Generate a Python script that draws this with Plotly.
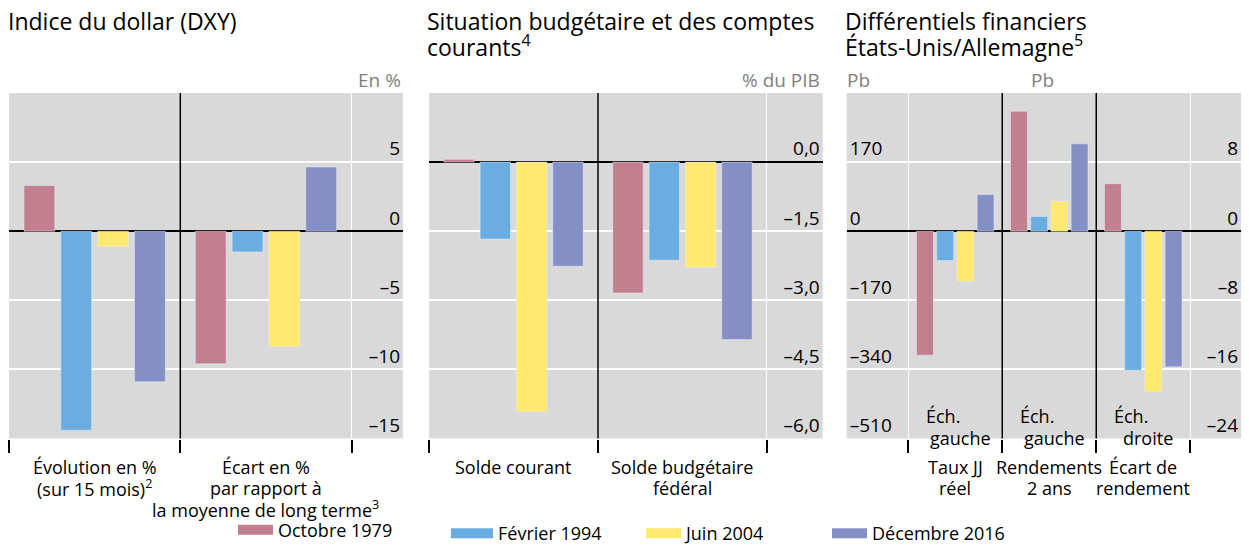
import plotly.graph_objects as go

W, H = 1249, 547
OFF = 8  # default page body margin

series_names = ["Octobre 1979", "Février 1994", "Juin 2004", "Décembre 2016"]
series_colors = ["#C27F8F", "#6AADE0", "#FFE971", "#838FC5"]

# Panel 1: Indice du dollar (DXY)
dxy_title = "Indice du dollar (DXY)"
dxy_categories = ["Évolution en %<br>(sur 15 mois)<sup>2</sup>",
                  "Écart en %<br>par rapport à<br>la moyenne de long terme<sup>3</sup>"]
dxy_values = [[3.3, -9.6], [-14.4, -1.5], [-1.1, -8.35], [-10.9, 4.65]]
dxy_ticks = [-15, -10, -5, 0, 5]
dxy_ticktext = ["–15", "–10", "–5", "0", "5"]

# Panel 2: Situation budgétaire et des comptes courants
bud_title = "Situation budgétaire et des comptes<br>courants<sup>4</sup>"
bud_categories = ["Solde courant", "Solde budgétaire<br>fédéral"]
bud_values = [[0.06, -2.84], [-1.67, -2.13], [-5.42, -2.28], [-2.26, -3.85]]
bud_ticks = [-6.0, -4.5, -3.0, -1.5, 0.0]
bud_ticktext = ["–6,0", "–4,5", "–3,0", "–1,5", "0,0"]

# Panel 3: Différentiels financiers États-Unis/Allemagne
fin_title = "Différentiels financiers<br>États-Unis/Allemagne<sup>5</sup>"
fin_categories = ["Taux JJ<br>réel", "Rendements<br>2 ans", "Écart de<br>rendement"]
fin_scale_notes = ["Éch.<br>gauche", "Éch.<br>gauche", "Éch.<br>droite"]
fin_left_values = [[-305, 295], [-72, 36], [-123, 74], [90, 215]]
fin_right_values = [5.5, -16.1, -18.6, -15.7]
fin_left_ticks = [-510, -340, -170, 0, 170]
fin_left_ticktext = ["–510", "–340", "–170", "0", "170"]
fin_right_ticks = [-24, -16, -8, 0, 8]
fin_right_ticktext = ["–24", "–16", "–8", "0", "8"]

FONT = "Open Sans"
BG = "#D9D9D9"
BAR_W = 0.18
SLOT = 0.215
FW, FH = W - OFF, H - OFF


def offs(i):
    return -2 * SLOT + (SLOT - BAR_W) / 2 + i * SLOT


def px(x):
    return (x - OFF) / FW


def py(y):
    return 1 - (y - OFF) / FH


fig = go.Figure()

for i, (name, col) in enumerate(zip(series_names, series_colors)):
    fig.add_trace(go.Bar(x=[0.5, 1.5], y=dxy_values[i], marker_color=col, width=BAR_W,
                         offset=offs(i), xaxis="x", yaxis="y", showlegend=False, name=name))
    fig.add_trace(go.Bar(x=[0.5, 1.5], y=bud_values[i], marker_color=col, width=BAR_W,
                         offset=offs(i), xaxis="x2", yaxis="y2", showlegend=False, name=name))
    fig.add_trace(go.Bar(x=[0.5, 1.5], y=fin_left_values[i], marker_color=col, width=BAR_W,
                         offset=offs(i), xaxis="x3", yaxis="y3", showlegend=False, name=name))
    fig.add_trace(go.Bar(x=[2.5], y=[fin_right_values[i]], marker_color=col, width=BAR_W,
                         offset=offs(i), xaxis="x3", yaxis="y4", showlegend=False, name=name))

legend_keys = ["legend", "legend2", "legend3", "legend4"]
for i, (name, col) in enumerate(zip(series_names, series_colors)):
    fig.add_trace(go.Scatter(x=[None], y=[None], mode="lines", line=dict(color=col, width=14),
                             name=name, legend=legend_keys[i], xaxis="x", yaxis="y"))

ytop, ybot = 93, 438.5
ydom = [py(ybot), py(ytop)]

xcommon = dict(showgrid=True, gridcolor="white", gridwidth=1, zeroline=False, showline=False,
               ticks="outside", ticklen=13, tickcolor="black", tickwidth=1.5,
               showticklabels=False, fixedrange=True)
tickfont = dict(size=19, color="black", family=FONT)
ycommon = dict(showgrid=True, gridcolor="white", gridwidth=1.5, zeroline=True,
               zerolinecolor="black", zerolinewidth=1.5, showline=False, ticks="",
               tickfont=tickfont, fixedrange=True)

fig.update_layout(
    width=FW, height=FH, margin=dict(l=0, r=0, t=0, b=0, autoexpand=False),
    paper_bgcolor="white", plot_bgcolor=BG, barmode="overlay",
    font=dict(family=FONT, color="black"),
    xaxis=dict(domain=[px(9), px(403)], range=[0, 2.3], tickvals=[0, 1, 2], anchor="y", **xcommon),
    yaxis=dict(domain=ydom, range=[-15, 10], tickvals=dxy_ticks, ticktext=dxy_ticktext,
               side="right", ticklabelposition="inside top", anchor="x", **ycommon),
    xaxis2=dict(domain=[px(429), px(822.7)], range=[0, 2.33], tickvals=[0, 1, 2], anchor="y2", **xcommon),
    yaxis2=dict(domain=ydom, range=[-6, 1.5], tickvals=bud_ticks, ticktext=bud_ticktext,
                side="right", ticklabelposition="inside top", anchor="x2", **ycommon),
    xaxis3=dict(domain=[px(846.7), px(1241)], range=[-0.655, 3.54], tickvals=[0, 1, 2, 3],
                anchor="y3", **xcommon),
    yaxis3=dict(domain=ydom, range=[-510, 340], tickvals=fin_left_ticks, ticktext=fin_left_ticktext,
                side="left", ticklabelposition="inside top", anchor="x3", **ycommon),
    yaxis4=dict(range=[-24, 16], tickvals=fin_right_ticks, ticktext=fin_right_ticktext,
                overlaying="y3", side="right", ticklabelposition="inside top", anchor="x3",
                showgrid=False, zeroline=False, showline=False, ticks="",
                tickfont=tickfont, fixedrange=True),
)

# legends
leg_x = [233, 446, 641, 827]
leg_y = [530, 533.5, 533.5, 533.5]
leg_iw = [35, 42, 35, 35]
for k, lx, ly, iw in zip(legend_keys, leg_x, leg_y, leg_iw):
    fig.update_layout({k: dict(x=px(lx), y=py(ly), xanchor="left", yanchor="middle",
                               orientation="h", bgcolor="rgba(0,0,0,0)", itemwidth=iw,
                               font=dict(size=18, family=FONT, color="black"))})

# black separators between categories
shapes = []
for xr, xs in [("x", [1]), ("x2", [1]), ("x3", [1, 2])]:
    for xv in xs:
        shapes.append(dict(type="line", xref=xr, yref="paper", x0=xv, x1=xv,
                           y0=ydom[0], y1=ydom[1], line=dict(color="black", width=1.5)))
fig.update_layout(shapes=shapes)

ann = []


def add_lines(text, x, y0, dy, xref, xanchor, font, xshifts=None):
    for k, line in enumerate(text.split("<br>")):
        ann.append(dict(text=line, x=x, y=py(y0 + k * dy), xref=xref, yref="paper",
                        xanchor=xanchor, yanchor="middle", showarrow=False,
                        xshift=(xshifts[k] if xshifts else 0), font=font))


title_font = dict(size=23, family=FONT, color="black")
add_lines(dxy_title, px(6), 21, 25, "paper", "left", title_font)
add_lines(bud_title, px(425), 21, 25, "paper", "left", title_font)
add_lines(fin_title, px(843), 21, 25, "paper", "left", title_font)

unit_style = dict(size=19, family=FONT, color="#7F7F7F")
add_lines("En %", px(403), 80, 0, "paper", "right", unit_style)
add_lines("% du PIB", px(822), 80, 0, "paper", "right", unit_style)
add_lines("Pb", px(845), 80, 0, "paper", "left", unit_style)
add_lines("Pb", px(1029), 80, 0, "paper", "left", unit_style)

cat_font = dict(size=18, family=FONT, color="black")
for xr, cats in [("x", dxy_categories), ("x2", bud_categories), ("x3", fin_categories)]:
    for j, c in enumerate(cats):
        add_lines(c, j + 0.5, 467, 21, xr, "center", cat_font)
for j, c in enumerate(fin_scale_notes):
    add_lines(c, j + 0.5, 416, 22, "x3", "center", cat_font, xshifts=[-12, 5])
fig.update_layout(annotations=ann)

fig.write_html("out.html")
